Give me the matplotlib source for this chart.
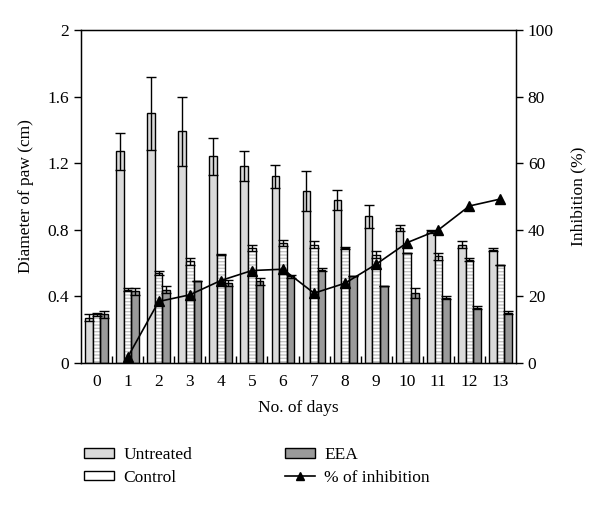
import numpy as np
import matplotlib
matplotlib.use("Agg")
import matplotlib.pyplot as plt
from matplotlib.patches import Patch
from matplotlib.lines import Line2D

plt.rcParams['font.family'] = ['Liberation Serif', 'DejaVu Serif']
plt.rcParams['font.size'] = 12.5

days = list(range(14))
untreated = [0.27, 1.27, 1.50, 1.39, 1.24, 1.18, 1.12, 1.03, 0.98, 0.88, 0.81, 0.79, 0.71, 0.68]
untreated_err = [0.02, 0.11, 0.22, 0.21, 0.11, 0.09, 0.07, 0.12, 0.06, 0.07, 0.02, 0.01, 0.02, 0.01]
control = [0.29, 0.44, 0.54, 0.61, 0.65, 0.69, 0.72, 0.71, 0.69, 0.65, 0.66, 0.64, 0.62, 0.59]
control_err = [0.01, 0.01, 0.01, 0.02, 0.005, 0.02, 0.02, 0.02, 0.005, 0.02, 0.0, 0.02, 0.01, 0.0]
eea = [0.29, 0.43, 0.44, 0.49, 0.48, 0.49, 0.52, 0.56, 0.52, 0.46, 0.42, 0.39, 0.33, 0.30]
eea_err = [0.02, 0.02, 0.02, 0.0, 0.02, 0.02, 0.01, 0.01, 0.0, 0.0, 0.03, 0.01, 0.01, 0.01]
inh_days = list(range(1, 14))
inhibition = [1.6, 18.4, 20.4, 24.7, 27.7, 28.1, 20.9, 23.9, 29.6, 36.1, 39.9, 47.1, 49.2]

fig = plt.figure(figsize=(6, 5.08), dpi=100)
ax = fig.add_axes([0.135, 0.286, 0.725, 0.655])
x = np.array(days)
w = 0.245

ekw = dict(ecolor='black', elinewidth=1.0, capsize=3.3, capthick=1.0)
ax.bar(x - w, untreated, w, color='#dadada', edgecolor='black', linewidth=1.0,
       yerr=untreated_err, error_kw=ekw, zorder=2)
# control: light horizontal hatch, then outline on top
ax.bar(x, control, w, color='white', edgecolor='#c4c4c4', hatch='-----', linewidth=0, zorder=2)
ax.bar(x, control, w, color='none', edgecolor='black', linewidth=1.0,
       yerr=control_err, error_kw=ekw, zorder=3)
ax.bar(x + w, eea, w, color='#9a9a9a', edgecolor='black', linewidth=1.0,
       yerr=eea_err, error_kw=ekw, zorder=2)

ax.set_xlim(-0.5, 13.5)
ax.set_ylim(0, 2)
ax.set_yticks([0, 0.4, 0.8, 1.2, 1.6, 2])
ax.set_yticklabels(['0', '0.4', '0.8', '1.2', '1.6', '2'])
ax.set_xticks(days)
ax.set_xticks(np.arange(0.5, 13, 1), minor=True)
ax.tick_params(axis='x', which='major', length=0, pad=8)
ax.tick_params(axis='x', which='minor', direction='in', length=5, width=1)
ax.tick_params(axis='y', direction='out', length=5, width=1)
ax.set_xlabel('No. of days', labelpad=7)
ax.set_ylabel('Diameter of paw (cm)', labelpad=10)
for s in ax.spines.values():
    s.set_linewidth(1.0)

ax2 = ax.twinx()
ax2.plot(inh_days, inhibition, color='black', linewidth=1.2, marker='^',
         markersize=7, zorder=5)
ax2.set_ylim(0, 100)
ax2.set_yticks([0, 20, 40, 60, 80, 100])
ax2.tick_params(axis='y', direction='out', length=5, width=1)
ax2.set_ylabel('Inhibition (%)', labelpad=12)

handles = [
    Patch(facecolor='#dadada', edgecolor='black', linewidth=1.0),
    Patch(facecolor='white', edgecolor='black', linewidth=1.0),
    Patch(facecolor='#9a9a9a', edgecolor='black', linewidth=1.0),
    Line2D([], [], color='black', linewidth=1.2, marker='^', markersize=6),
]
labels = ['Untreated', 'Control', 'EEA', '% of inhibition']
fig.legend(handles, labels, ncol=2, loc='upper left', bbox_to_anchor=(0.125, 0.137),
           frameon=False, handlelength=1.75, handleheight=0.45, columnspacing=5.3,
           handletextpad=0.55, labelspacing=0.38, borderpad=0)

fig.savefig('out.png', dpi=100)
